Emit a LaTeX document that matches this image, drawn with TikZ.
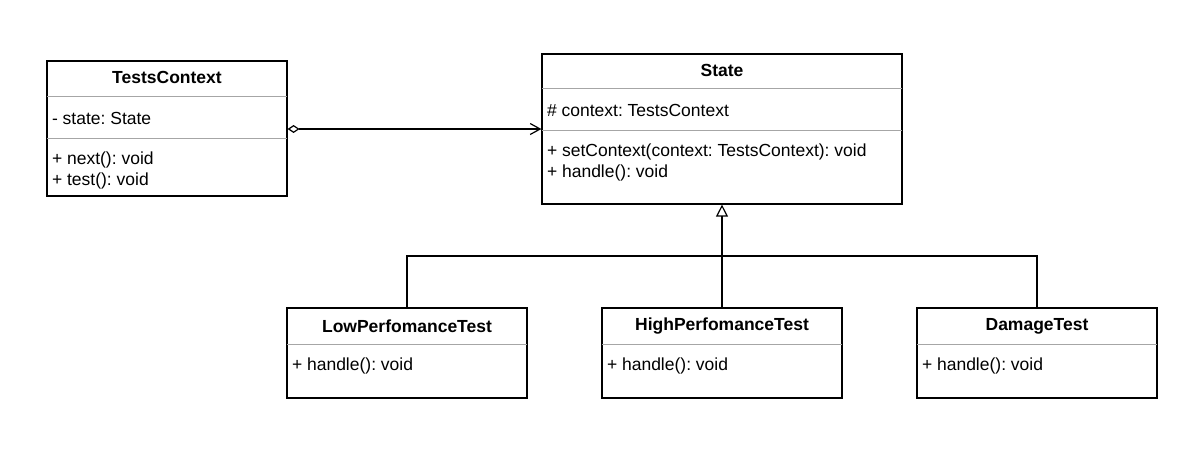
\documentclass[tikz,border=0pt]{standalone}
\usepackage{fontspec}
\setmainfont{Liberation Sans}
\usetikzlibrary{calc, arrows.meta, positioning}
\frenchspacing

\begin{document}
\begin{tikzpicture}[x=1pt, y=-1pt, line width=1.2pt,
            classbox/.style={draw, inner sep=0pt, minimum width=240pt},
            title/.style={font=\fontsize{17.5}{21}\selectfont\bfseries, inner sep=0pt},
            member/.style={font=\fontsize{17.5}{21}\selectfont, inner sep=0pt, anchor=west, align=left},
            sep/.style={draw=black!35, line width=1pt}]
            \useasboundingbox (0,0) rectangle (1192,448);
            \node[classbox, minimum height=135pt] (ctx) at (167,128.5) {};
            \node[classbox, minimum width=360pt, minimum height=150pt] (state) at (722,129) {};
            \node[classbox, minimum height=90pt] (low) at (407,353) {};
            \node[classbox, minimum height=90pt] (high) at (722,353) {};
            \node[classbox, minimum height=90pt] (dmg) at (1037,353) {};
            \draw[sep] ($(ctx.north west)+(0.6,36)$) -- ($(ctx.north east)+(-0.6,36)$);
            \draw[sep] ($(ctx.north west)+(0.6,78)$) -- ($(ctx.north east)+(-0.6,78)$);
            \draw[sep] ($(state.north west)+(0.6,35)$) -- ($(state.north east)+(-0.6,35)$);
            \draw[sep] ($(state.north west)+(0.6,77)$) -- ($(state.north east)+(-0.6,77)$);
            \draw[sep] ($(low.north west)+(0.6,37)$) -- ($(low.north east)+(-0.6,37)$);
            \draw[sep] ($(high.north west)+(0.6,37)$) -- ($(high.north east)+(-0.6,37)$);
            \draw[sep] ($(dmg.north west)+(0.6,37)$) -- ($(dmg.north east)+(-0.6,37)$);
            \node[title] (ctxname) at ($(ctx.north)+(0,17)$) {TestsContext};
            \node[member] (ctxattr) at ($(ctx.north west)+(5,58)$) {- state: State};
            \node[member] (ctxops) at ($(ctx.north west)+(5,110)$) {+ next(): void\\+ test(): void};
            \node[title] (statename) at ($(state.north)+(0,17)$) {State};
            \node[member] (stateattr) at ($(state.north west)+(5,57)$) {\# context: TestsContext};
            \node[member] (stateops) at ($(state.north west)+(5,109.5)$) {+ setContext(context: TestsContext): void\\+ handle(): void};
            \node[title] (lowname) at ($(low.north)+(0,19)$) {LowPerfomanceTest};
            \node[member] (lowops) at ($(low.north west)+(5,59)$) {+ handle(): void};
            \node[title] (highname) at ($(high.north)+(0,19)$) {HighPerfomanceTest};
            \node[member] (highops) at ($(high.north west)+(5,59)$) {+ handle(): void};
            \node[title] (dmgname) at ($(dmg.north)+(0,19)$) {DamageTest};
            \node[member] (dmgops) at ($(dmg.north west)+(5,59)$) {+ handle(): void};
            \coordinate (bus) at (722,256);
            \draw[{Diamond[open, length=12pt, width=8pt]}-{Straight Barb[length=10pt, width=11pt]}] (ctx.east |- state.west) -- (state.west);
            \draw[-{Triangle[open, length=12pt, width=12pt]}] (high.north) -- (state.south);
            \draw (low.north) |- (bus) -| (dmg.north);
        \end{tikzpicture}
\end{document}
